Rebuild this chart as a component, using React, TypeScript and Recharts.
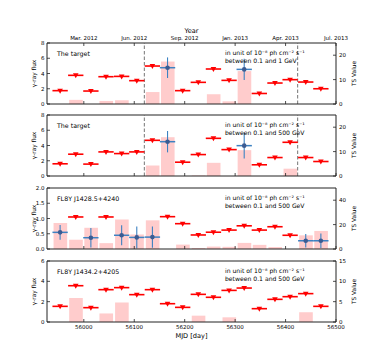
import React from 'react';
import { ComposedChart, Bar, Scatter, ErrorBar, XAxis, YAxis, ReferenceLine } from 'recharts';

// 30-day bins, MJD centres
const MJD = [55953, 55984, 56014, 56044, 56075, 56105, 56136, 56166, 56196, 56227, 56257, 56288, 56318, 56348, 56379, 56409, 56440, 56470];
const HALF_BIN = 15.2;
const X_MIN = 55927;
const X_MAX = 56500;
const MJD_TICKS = [56000, 56100, 56200, 56300, 56400, 56500];
const YEAR_LABELS = ['Mar. 2012', 'Jun. 2012', 'Sep. 2012', 'Jan. 2013', 'Apr. 2013', 'Jul. 2013'];
const FLARE_EDGES = [56120, 56424];

// target, 0.1-1 GeV
const P1_FLUX = [1.75, 3.76, 1.7, 3.58, 3.62, 3.06, 4.98, 4.76, 1.75, 2.84, 4.59, 3.1, 4.54, 1.38, 2.75, 3.19, 2.88, 2.0];
const P1_ERR = [null, null, null, null, null, null, null, 1.35, null, null, null, null, 1.4, null, null, null, null, null];
const P1_TS = [0, 1.7, 0, 1.25, 1.5, 0, 4.9, 17.4, 0, 0, 4.0, 1.1, 13.5, 0, 0, 0, 0, 0];

// target, 0.1-500 GeV
const P2_FLUX = [1.6, 2.86, 1.56, 3.16, 2.94, 3.16, 4.68, 4.5, 1.81, 2.81, 4.94, 3.46, 3.98, 1.47, 2.42, 4.42, 2.42, 1.9];
const P2_ERR = [null, null, null, null, null, null, null, 1.4, null, null, null, null, 1.7, null, null, null, null, null];
const P2_TS = [0, 0, 0, 0, 0, 0, 4.3, 15.9, 0, 0.2, 5.4, 0, 10.6, 0, 0, 3.0, 0, 0];

// FL8Y J1428.5+4240
const P3_FLUX = [0.546, 1.05, 0.37, 1.05, 0.45, 0.38, 0.39, 1.06, 0.83, 0.46, 0.55, 0.62, 0.76, 0.62, 0.73, 0.45, 0.27, 0.27];
const P3_ERR = [0.24, null, 0.32, null, 0.33, 0.36, 0.35, null, null, null, null, null, null, null, null, null, 0.22, 0.24];
const P3_TS = [21.3, 7.6, 17.4, 4.8, 24.2, 11.9, 23.5, 0, 3.6, 0.8, 2.0, 1.8, 5.0, 3.4, 1.6, 0, 11.2, 14.8];

// FL8Y J1434.2+4205 (upper limits only)
const P4_FLUX = [1.54, 3.57, 1.41, 3.18, 3.38, 2.69, 3.18, 1.8, 1.44, 2.72, 2.43, 3.11, 3.34, 1.31, 2.23, 2.49, 2.79, 1.54];
const P4_ERR = [null, null, null, null, null, null, null, null, null, null, null, null, null, null, null, null, null, null];
const P4_TS = [0, 5.9, 0, 2.1, 4.8, 0, 0, 0, 0, 1.56, 0, 1.15, 0, 0, 0, 0, 2.4, 0];

const W = 374;
const LEFT = 47;
const RIGHT = 38;
const PLOT_H = 61;
const BAR_PX = (2 * HALF_BIN * (W - LEFT - RIGHT)) / (X_MAX - X_MIN);
const FONT = 'DejaVu Sans, sans-serif';
const AXIS = '#222';
const RED = '#ff0000';
const PINK = '#ffcccc';
const DOT = '#3b5b92';
const ERRC = '#3d82c2';
const TICK_FS = 5.5;

const int = (v: number) => String(v);
const one = (v: number) => v.toFixed(1);

const downTriangle = (props: any) => {
  const { cx, cy } = props;
  if (cx == null || cy == null) return <g />;
  return <polygon points={`${cx - 2.8},${cy - 2} ${cx + 2.8},${cy - 2} ${cx},${cy + 3}`} fill={RED} />;
};

const dot = (props: any) => {
  const { cx, cy } = props;
  if (cx == null || cy == null) return <g />;
  return <circle cx={cx} cy={cy} r={2.3} fill={DOT} />;
};

type PanelProps = {
  flux: number[];
  err: (number | null)[];
  ts: number[];
  fluxMax: number;
  fluxTicks: number[];
  fluxFmt: (v: number) => string;
  tsMax: number;
  tsTicks: number[];
  top: number;
  topH: number;
  botH: number;
  yearAxis?: boolean;
  mjdLabels?: boolean;
  flare?: boolean;
};

function Panel(p: PanelProps) {
  const rows = MJD.map((mjd, i) => ({ mjd, ts: p.ts[i], flux: p.flux[i], xerr: HALF_BIN, yerr: p.err[i] }));
  const ul = rows.filter((r) => r.yerr == null);
  const det = rows.filter((r) => r.yerr != null);

  const bottomTick = (t: any) => (
    <g>
      <line x1={t.x} x2={t.x} y1={t.y} y2={t.y - 3} stroke={AXIS} strokeWidth={0.8} />
      {p.mjdLabels && (
        <text x={t.x} y={t.y + 5} textAnchor="middle" dominantBaseline="central" fontSize={TICK_FS} fontFamily={FONT} fill="#000">
          {t.payload.value}
        </text>
      )}
    </g>
  );
  const topTick = (t: any) => {
    if (!p.yearAxis) return <g />;
    const i = MJD_TICKS.indexOf(t.payload.value);
    return (
      <g>
        <line x1={t.x} x2={t.x} y1={t.y} y2={t.y + 3} stroke={AXIS} strokeWidth={0.8} />
        <text x={t.x} y={t.y - 5} textAnchor="middle" dominantBaseline="central" fontSize={TICK_FS} fontFamily={FONT} fill="#000">
          {YEAR_LABELS[i]}
        </text>
      </g>
    );
  };
  const leftTick = (t: any) => (
    <g>
      <line x1={t.x} x2={t.x + 3} y1={t.y} y2={t.y} stroke={AXIS} strokeWidth={0.8} />
      <text x={t.x - 2.5} y={t.y} textAnchor="end" dominantBaseline="central" fontSize={TICK_FS} fontFamily={FONT} fill="#000">
        {p.fluxFmt(t.payload.value)}
      </text>
    </g>
  );
  const rightTick = (t: any) => (
    <g>
      <line x1={t.x} x2={t.x - 3} y1={t.y} y2={t.y} stroke={AXIS} strokeWidth={0.8} />
      <text x={t.x + 3} y={t.y} textAnchor="start" dominantBaseline="central" fontSize={TICK_FS} fontFamily={FONT} fill="#000">
        {t.payload.value}
      </text>
    </g>
  );

  return (
    <div style={{ position: 'absolute', left: 0, top: p.top - p.topH }}>
      <ComposedChart width={W} height={p.topH + PLOT_H + p.botH} data={rows} margin={{ top: 0, right: 0, bottom: 0, left: 0 }}>
        <XAxis xAxisId="b" dataKey="mjd" type="number" domain={[X_MIN, X_MAX]} allowDataOverflow ticks={MJD_TICKS} interval={0}
          height={p.botH} tickSize={0} tickMargin={0} tickLine={false} axisLine={{ stroke: AXIS, strokeWidth: 1 }} tick={bottomTick} />
        <XAxis xAxisId="t" dataKey="mjd" orientation="top" type="number" domain={[X_MIN, X_MAX]} allowDataOverflow ticks={MJD_TICKS} interval={0}
          height={p.topH} tickSize={0} tickMargin={0} tickLine={false} axisLine={{ stroke: AXIS, strokeWidth: 1 }} tick={topTick} />
        <YAxis yAxisId="flux" orientation="left" type="number" width={LEFT} domain={[0, p.fluxMax]} allowDataOverflow ticks={p.fluxTicks} interval={0}
          tickSize={0} tickMargin={0} tickLine={false} axisLine={{ stroke: AXIS, strokeWidth: 1 }} tick={leftTick} />
        <YAxis yAxisId="ts" orientation="right" type="number" width={RIGHT} domain={[0, p.tsMax]} allowDataOverflow ticks={p.tsTicks} interval={0}
          tickSize={0} tickMargin={0} tickLine={false} axisLine={{ stroke: AXIS, strokeWidth: 1 }} tick={rightTick} />
        <Bar xAxisId="b" yAxisId="ts" dataKey="ts" fill={PINK} barSize={BAR_PX} isAnimationActive={false} />
        {p.flare && FLARE_EDGES.map((x) => (
          <ReferenceLine key={x} xAxisId="b" yAxisId="flux" x={x} stroke="#666" strokeWidth={0.9} strokeDasharray="3.5 2" />
        ))}
        <Scatter xAxisId="b" yAxisId="flux" data={ul} dataKey="flux" fill={RED} shape={downTriangle} isAnimationActive={false}>
          <ErrorBar direction="x" dataKey="xerr" width={0} stroke={RED} strokeWidth={1.6} />
        </Scatter>
        {det.length > 0 && (
          <Scatter xAxisId="b" yAxisId="flux" data={det} dataKey="flux" fill={DOT} shape={dot} isAnimationActive={false}>
            <ErrorBar direction="x" dataKey="xerr" width={0} stroke={ERRC} strokeWidth={1.5} />
            <ErrorBar direction="y" dataKey="yerr" width={0} stroke={ERRC} strokeWidth={1.1} />
          </Scatter>
        )}
      </ComposedChart>
    </div>
  );
}

const TOPS = [43, 115, 188, 261];
const NAMES = ['The target', 'The target', 'FL8Y J1428.5+4240', 'FL8Y J1434.2+4205'];
const BANDS = ['between 0.1 and 1 GeV', 'between 0.1 and 500 GeV', 'between 0.1 and 500 GeV', 'between 0.1 and 500 GeV'];

export default function App() {
  return (
    <div style={{ position: 'absolute', left: 0, top: 0, width: W, height: 362, background: '#fff', fontFamily: FONT }}>
      <Panel flux={P1_FLUX} err={P1_ERR} ts={P1_TS} fluxMax={8} fluxTicks={[0, 2, 4, 6, 8]} fluxFmt={int}
        tsMax={25} tsTicks={[0, 10, 20]} top={TOPS[0]} topH={43} botH={2} yearAxis flare />
      <Panel flux={P2_FLUX} err={P2_ERR} ts={P2_TS} fluxMax={8} fluxTicks={[0, 2, 4, 6, 8]} fluxFmt={int}
        tsMax={25} tsTicks={[0, 10, 20]} top={TOPS[1]} topH={3} botH={2} flare />
      <Panel flux={P3_FLUX} err={P3_ERR} ts={P3_TS} fluxMax={2} fluxTicks={[0, 0.5, 1, 1.5, 2]} fluxFmt={one}
        tsMax={50} tsTicks={[0, 20, 40]} top={TOPS[2]} topH={3} botH={2} />
      <Panel flux={P4_FLUX} err={P4_ERR} ts={P4_TS} fluxMax={6} fluxTicks={[0, 2, 4, 6]} fluxFmt={int}
        tsMax={15} tsTicks={[0, 5, 10, 15]} top={TOPS[3]} topH={3} botH={30} mjdLabels />
      <svg width={W} height={362} style={{ position: 'absolute', left: 0, top: 0, pointerEvents: 'none' }}>
        <text x={191.5} y={31} textAnchor="middle" dominantBaseline="central" fontSize={6.6} fill="#000">Year</text>
        <text x={191.5} y={336} textAnchor="middle" dominantBaseline="central" fontSize={6.6} fill="#000">MJD [day]</text>
        {TOPS.map((t, i) => (
          <g key={i}>
            <text x={33.5} y={t + PLOT_H / 2} transform={`rotate(-90 33.5 ${t + PLOT_H / 2})`} textAnchor="middle" dominantBaseline="central" fontSize={5.8} fill="#000">γ-ray flux</text>
            <text x={353.5} y={t + PLOT_H / 2} transform={`rotate(-90 353.5 ${t + PLOT_H / 2})`} textAnchor="middle" dominantBaseline="central" fontSize={5.8} fill="#000">TS Value</text>
            <text x={57} y={t + 10} dominantBaseline="central" fontSize={6.3} fill="#000">{NAMES[i]}</text>
            <text x={225} y={t + 9} dominantBaseline="central" fontSize={6.1} fill="#000">in unit of 10⁻⁸ ph cm⁻² s⁻¹</text>
            <text x={225} y={t + 17} dominantBaseline="central" fontSize={6.1} fill="#000">{BANDS[i]}</text>
          </g>
        ))}
      </svg>
    </div>
  );
}
